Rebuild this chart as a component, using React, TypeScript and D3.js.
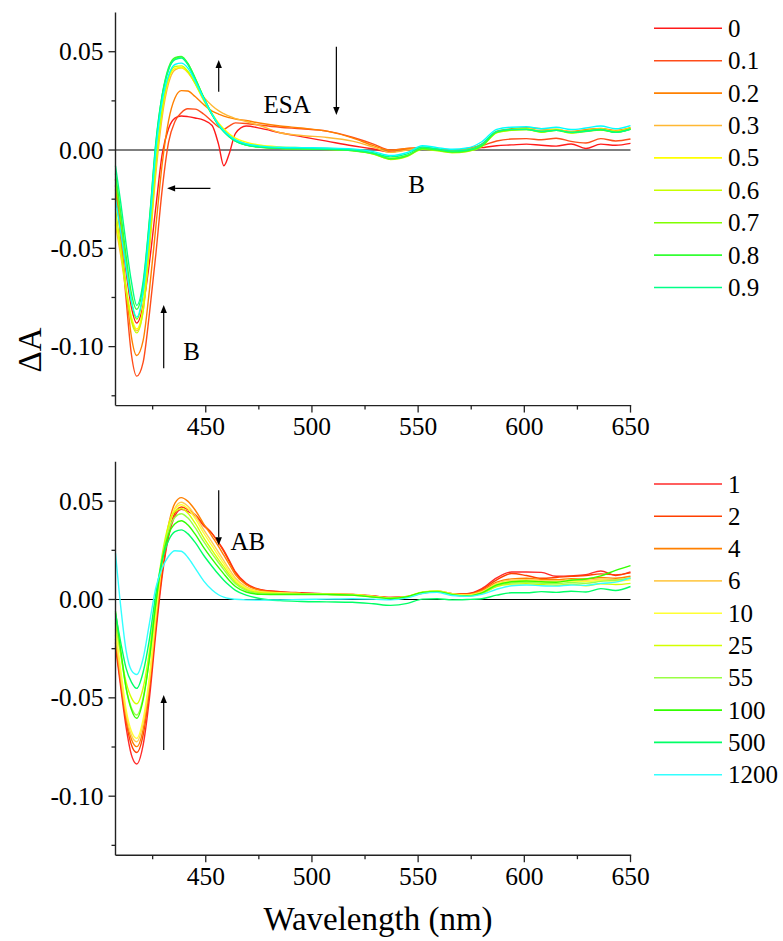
import React from 'react';
import * as d3 from 'd3';

// ---------- DATA ----------
const wavelengths = [407.5, 410, 412.5, 415, 417.5, 420.5, 423.5, 426.5, 429.5, 432.5, 435.5, 438.5, 441.5, 445, 449, 453, 456, 458.5, 461, 464, 469, 476, 485, 495, 507, 519, 529, 537, 545, 552, 559, 566, 573, 580, 587, 594, 601, 608, 615, 622, 629, 636, 643, 650];

const topLabels = ['0', '0.1', '0.2', '0.3', '0.5', '0.6', '0.7', '0.8', '0.9', ''];
const topColors = ['#ff1a1a', '#ff4d1a', '#ff8000', '#ffb833', '#ffff00', '#c8ff00', '#80ff00', '#33ff33', '#00ff88', '#00ffff'];
const topLegendCount = 9;

const top0 = [-0.015, -0.038, -0.062, -0.080, -0.088, -0.079, -0.057, -0.029, -0.002, 0.011, 0.0162, 0.0173, 0.0170, 0.0163, 0.0152, 0.0125, 0.003, -0.008, -0.002, 0.0085, 0.0122, 0.0110, 0.0088, 0.0068, 0.0045, 0.0022, 0.0005, -0.0010, 0.0002, 0.0010, 0.0004, -0.0002, 0.0002, 0.0012, 0.0022, 0.0026, 0.0030, 0.0024, 0.0020, 0.0031, 0.0008, 0.0030, 0.0024, 0.0034];
const top01 = [-0.018, -0.045, -0.076, -0.104, -0.115, -0.108, -0.083, -0.053, -0.020, 0.004, 0.0145, 0.0190, 0.0210, 0.0208, 0.0183, 0.0145, 0.0118, 0.0106, 0.0122, 0.0138, 0.0135, 0.0126, 0.0116, 0.0108, 0.0096, 0.0065, 0.0030, 0.0000, 0.0008, 0.0012, 0.0004, -0.0002, 0.0008, 0.0022, 0.0046, 0.0056, 0.0058, 0.0052, 0.0060, 0.0044, 0.0036, 0.0058, 0.0046, 0.0056];
const top02 = [-0.020, -0.044, -0.071, -0.095, -0.1045, -0.097, -0.071, -0.039, -0.007, 0.015, 0.0265, 0.0302, 0.0300, 0.0272, 0.0232, 0.0198, 0.0183, 0.0172, 0.0165, 0.0158, 0.0150, 0.0136, 0.0122, 0.0112, 0.0096, 0.0062, 0.0022, -0.0002, 0.0008, 0.0010, 0.0002, 0.0000, 0.0006, 0.0030, 0.0095, 0.0108, 0.0114, 0.0108, 0.0104, 0.0094, 0.0104, 0.0110, 0.0100, 0.0114];
const top03 = [-0.038, -0.054, -0.072, -0.086, -0.092, -0.082, -0.050, -0.012, 0.017, 0.034, 0.0408, 0.0418, 0.0395, 0.0340, 0.0270, 0.0225, 0.0200, 0.0185, 0.0172, 0.0160, 0.0145, 0.0122, 0.0088, 0.0074, 0.0064, 0.0045, 0.0015, -0.0012, 0.0000, 0.0010, 0.0000, -0.0005, 0.0002, 0.0028, 0.0092, 0.0104, 0.0110, 0.0098, 0.0106, 0.0092, 0.0100, 0.0108, 0.0096, 0.0112];
const top05 = [-0.035, -0.052, -0.070, -0.085, -0.091, -0.080, -0.047, -0.008, 0.020, 0.036, 0.0415, 0.0420, 0.0398, 0.0340, 0.0258, 0.0185, 0.0138, 0.0108, 0.0082, 0.0060, 0.0040, 0.0024, 0.0016, 0.0012, 0.0008, 0.0002, -0.0015, -0.0042, -0.0028, 0.0008, 0.0000, -0.0010, -0.0004, 0.0022, 0.0090, 0.0104, 0.0108, 0.0094, 0.0104, 0.0090, 0.0098, 0.0106, 0.0094, 0.0110];
const top06 = [-0.030, -0.050, -0.071, -0.087, -0.093, -0.082, -0.048, -0.007, 0.021, 0.037, 0.0425, 0.0428, 0.0402, 0.0338, 0.0252, 0.0178, 0.0130, 0.0100, 0.0074, 0.0052, 0.0032, 0.0018, 0.0010, 0.0008, 0.0004, -0.0002, -0.0020, -0.0048, -0.0032, 0.0004, -0.0004, -0.0014, -0.0008, 0.0018, 0.0088, 0.0100, 0.0104, 0.0090, 0.0100, 0.0086, 0.0094, 0.0102, 0.0090, 0.0106];
const top07 = [-0.015, -0.036, -0.058, -0.077, -0.086, -0.073, -0.039, 0.001, 0.027, 0.041, 0.0465, 0.0474, 0.0440, 0.0365, 0.0268, 0.0182, 0.0128, 0.0096, 0.0070, 0.0046, 0.0026, 0.0014, 0.0008, 0.0006, 0.0003, -0.0004, -0.0020, -0.0046, -0.0030, 0.0006, -0.0002, -0.0012, -0.0006, 0.0020, 0.0090, 0.0102, 0.0106, 0.0092, 0.0102, 0.0088, 0.0096, 0.0104, 0.0092, 0.0108];
const top08 = [-0.012, -0.032, -0.054, -0.073, -0.081, -0.069, -0.036, 0.003, 0.028, 0.042, 0.0470, 0.0476, 0.0442, 0.0366, 0.0268, 0.0180, 0.0126, 0.0094, 0.0068, 0.0045, 0.0025, 0.0014, 0.0009, 0.0006, 0.0004, -0.0003, -0.0018, -0.0044, -0.0028, 0.0008, 0.0000, -0.0010, -0.0004, 0.0022, 0.0092, 0.0104, 0.0104, 0.0094, 0.0100, 0.0090, 0.0098, 0.0102, 0.0090, 0.0106];
const top09 = [-0.008, -0.027, -0.048, -0.067, -0.079, -0.067, -0.035, 0.004, 0.028, 0.041, 0.0460, 0.0468, 0.0436, 0.0360, 0.0265, 0.0180, 0.0125, 0.0093, 0.0068, 0.0045, 0.0025, 0.0015, 0.0010, 0.0008, 0.0005, 0.0000, -0.0015, -0.0035, -0.0020, 0.0015, 0.0005, -0.0005, 0.0000, 0.0030, 0.0095, 0.0105, 0.0105, 0.0095, 0.0100, 0.0090, 0.0095, 0.0105, 0.0090, 0.0105];
const topExtra = [-0.025, -0.042, -0.060, -0.077, -0.085, -0.072, -0.040, 0.000, 0.025, 0.038, 0.0435, 0.0442, 0.0418, 0.0352, 0.0262, 0.0182, 0.0130, 0.0098, 0.0074, 0.0052, 0.0032, 0.0020, 0.0014, 0.0012, 0.0010, 0.0006, -0.0008, -0.0028, -0.0012, 0.0022, 0.0012, 0.0004, 0.0010, 0.0042, 0.0105, 0.0116, 0.0118, 0.0108, 0.0116, 0.0104, 0.0112, 0.0122, 0.0108, 0.0124];
const topValues = [top0, top01, top02, top03, top05, top06, top07, top08, top09, topExtra];

const bottomLabels = ['1', '2', '4', '6', '10', '25', '55', '100', '500', '1200'];
const bottomColors = ['#ff2a2a', '#ff4000', '#ff8000', '#ffcc55', '#ffff33', '#d4ff00', '#99ff44', '#33ff00', '#00ff66', '#33ffff'];

const bot1 = [-0.024, -0.045, -0.065, -0.079, -0.0836, -0.074, -0.050, -0.017, 0.012, 0.032, 0.0425, 0.0458, 0.0448, 0.0425, 0.0375, 0.0335, 0.0290, 0.0250, 0.0200, 0.0140, 0.0082, 0.0050, 0.0040, 0.0034, 0.0028, 0.0026, 0.0018, 0.0010, 0.0014, 0.0032, 0.0040, 0.0030, 0.0030, 0.0055, 0.0110, 0.0140, 0.0140, 0.0138, 0.0118, 0.0120, 0.0126, 0.0145, 0.0122, 0.0140];
const bot2 = [-0.022, -0.043, -0.062, -0.074, -0.0778, -0.069, -0.046, -0.014, 0.014, 0.033, 0.0440, 0.0470, 0.0458, 0.0432, 0.0380, 0.0335, 0.0288, 0.0245, 0.0195, 0.0135, 0.0078, 0.0048, 0.0038, 0.0032, 0.0027, 0.0025, 0.0017, 0.0010, 0.0015, 0.0034, 0.0040, 0.0030, 0.0028, 0.0050, 0.0100, 0.0132, 0.0122, 0.0108, 0.0112, 0.0118, 0.0122, 0.0130, 0.0125, 0.0135];
const bot4 = [-0.020, -0.041, -0.060, -0.071, -0.0748, -0.066, -0.043, -0.011, 0.018, 0.038, 0.0490, 0.0518, 0.0500, 0.0455, 0.0385, 0.0320, 0.0270, 0.0225, 0.0180, 0.0125, 0.0075, 0.0046, 0.0036, 0.0030, 0.0026, 0.0024, 0.0016, 0.0008, 0.0014, 0.0034, 0.0042, 0.0030, 0.0026, 0.0045, 0.0088, 0.0105, 0.0108, 0.0102, 0.0100, 0.0106, 0.0104, 0.0112, 0.0108, 0.0118];
const bot6 = [-0.018, -0.039, -0.058, -0.069, -0.0723, -0.063, -0.041, -0.009, 0.019, 0.037, 0.0465, 0.0494, 0.0475, 0.0428, 0.0355, 0.0290, 0.0240, 0.0198, 0.0155, 0.0108, 0.0064, 0.0040, 0.0034, 0.0030, 0.0027, 0.0025, 0.0016, 0.0008, 0.0015, 0.0036, 0.0044, 0.0030, 0.0024, 0.0040, 0.0082, 0.0098, 0.0100, 0.0096, 0.0094, 0.0100, 0.0098, 0.0104, 0.0100, 0.0108];
const bot10 = [-0.015, -0.036, -0.056, -0.067, -0.0706, -0.061, -0.039, -0.007, 0.020, 0.037, 0.0458, 0.0482, 0.0462, 0.0412, 0.0338, 0.0272, 0.0222, 0.0182, 0.0140, 0.0098, 0.0058, 0.0038, 0.0033, 0.0030, 0.0028, 0.0025, 0.0015, 0.0008, 0.0016, 0.0038, 0.0044, 0.0028, 0.0022, 0.0036, 0.0078, 0.0092, 0.0096, 0.0090, 0.0088, 0.0094, 0.0090, 0.0098, 0.0094, 0.0100];
const bot25 = [-0.012, -0.028, -0.042, -0.050, -0.053, -0.045, -0.026, 0.000, 0.023, 0.038, 0.0448, 0.0462, 0.0440, 0.0388, 0.0315, 0.0250, 0.0203, 0.0166, 0.0128, 0.0088, 0.0052, 0.0034, 0.0030, 0.0028, 0.0026, 0.0024, 0.0014, 0.0006, 0.0014, 0.0036, 0.0042, 0.0026, 0.0018, 0.0030, 0.0066, 0.0078, 0.0080, 0.0076, 0.0072, 0.0078, 0.0070, 0.0080, 0.0076, 0.0082];
const bot55 = [-0.010, -0.028, -0.045, -0.055, -0.0587, -0.050, -0.030, -0.002, 0.021, 0.035, 0.0418, 0.0436, 0.0415, 0.0365, 0.0295, 0.0232, 0.0188, 0.0152, 0.0116, 0.0080, 0.0046, 0.0030, 0.0028, 0.0027, 0.0026, 0.0023, 0.0013, 0.0006, 0.0014, 0.0036, 0.0042, 0.0026, 0.0018, 0.0032, 0.0070, 0.0084, 0.0088, 0.0082, 0.0080, 0.0086, 0.0082, 0.0092, 0.0098, 0.0110];
const bot100 = [-0.006, -0.026, -0.045, -0.056, -0.0604, -0.051, -0.030, -0.002, 0.020, 0.033, 0.0385, 0.0400, 0.0380, 0.0332, 0.0265, 0.0205, 0.0163, 0.0130, 0.0098, 0.0066, 0.0038, 0.0026, 0.0025, 0.0025, 0.0025, 0.0022, 0.0012, 0.0005, 0.0014, 0.0036, 0.0040, 0.0024, 0.0018, 0.0034, 0.0074, 0.0090, 0.0094, 0.0090, 0.0088, 0.0098, 0.0104, 0.0120, 0.0148, 0.0172];
const bot500 = [-0.007, -0.022, -0.035, -0.042, -0.0452, -0.037, -0.020, 0.003, 0.020, 0.030, 0.0345, 0.0354, 0.0335, 0.0290, 0.0225, 0.0168, 0.0128, 0.0098, 0.0072, 0.0046, 0.0022, 0.0004, -0.0006, -0.0010, -0.0012, -0.0014, -0.0022, -0.0030, -0.0020, 0.0002, 0.0004, -0.0002, 0.0000, 0.0004, 0.0022, 0.0034, 0.0034, 0.0040, 0.0036, 0.0042, 0.0038, 0.0055, 0.0046, 0.0066];
const bot1200 = [0.0235, -0.004, -0.026, -0.036, -0.0381, -0.030, -0.012, 0.006, 0.016, 0.022, 0.0248, 0.0245, 0.0215, 0.0160, 0.0095, 0.0048, 0.0024, 0.0012, 0.0005, 0.0001, -0.0002, -0.0003, -0.0002, 0.0000, 0.0002, 0.0004, 0.0002, -0.0002, 0.0008, 0.0030, 0.0036, 0.0020, 0.0016, 0.0026, 0.0052, 0.0070, 0.0074, 0.0070, 0.0068, 0.0074, 0.0072, 0.0082, 0.0088, 0.0110];
const bottomValues = [bot1, bot2, bot4, bot6, bot10, bot25, bot55, bot100, bot500, bot1200];

const xTicks = [450, 500, 550, 600, 650];
const xMinorTicks = [425, 475, 525, 575, 625];
const yTicks = [-0.1, -0.05, 0, 0.05];
const yMinorTicks = [-0.125, -0.075, -0.025, 0.025];

// annotations in data coordinates: [x1, y1, x2, y2] (arrow from 1 to 2)
const topArrows = [
  [456.1, 0.0297, 456.1, 0.0458],
  [511.5, 0.0525, 511.5, 0.0178],
  [452.2, -0.0195, 431.8, -0.0195],
  [430.2, -0.111, 430.2, -0.0788],
];
const topTexts = [
  { t: 'ESA', x: 477.2, y: 0.0188 },
  { t: 'B', x: 545.4, y: -0.0219 },
  { t: 'B', x: 439.4, y: -0.1068 },
];
const bottomArrows = [
  [456.1, 0.0555, 456.1, 0.0276],
  [430.2, -0.0765, 430.2, -0.0485],
];
const bottomTexts = [{ t: 'AB', x: 461.6, y: 0.025 }];

// ---------- LAYOUT ----------
const FONT = "'Liberation Serif', 'Times New Roman', serif";
const X_DOMAIN = [407.5, 650];
const Y_DOMAIN = [-0.13, 0.07];
const PLOT_LEFT = 115.5;
const PLOT_RIGHT = 630.5;
const xScale = d3.scaleLinear().domain(X_DOMAIN).range([PLOT_LEFT, PLOT_RIGHT]);

const txt = (size: number) => ({ fontFamily: FONT, fontSize: size + 'px' });

function Arrow({ x1, y1, x2, y2 }: { x1: number; y1: number; x2: number; y2: number }) {
  const ang = Math.atan2(y2 - y1, x2 - x1);
  const L = 8, W = 3.2;
  const bx = x2 - L * Math.cos(ang), by = y2 - L * Math.sin(ang);
  const px = -Math.sin(ang) * W, py = Math.cos(ang) * W;
  return (
    <g>
      <line x1={x1} y1={y1} x2={bx} y2={by} stroke="#000" strokeWidth={1.2} />
      <path d={`M${x2},${y2}L${bx + px},${by + py}L${bx - px},${by - py}Z`} fill="#000" />
    </g>
  );
}

function Panel(props: {
  yBottom: number; yTop: number; values: number[][]; colors: string[]; labels: string[];
  legendCount: number; legendY0: number; legendStep: number;
  arrows: number[][]; texts: { t: string; x: number; y: number }[];
}) {
  const { yBottom, yTop, values, colors, labels, legendCount, legendY0, legendStep, arrows, texts } = props;
  const yScale = d3.scaleLinear().domain(Y_DOMAIN).range([yBottom, yTop]);
  const line = d3.line<number>()
    .x((_, i) => xScale(wavelengths[i]))
    .y((d) => yScale(d))
    .curve(d3.curveMonotoneX);
  const axisColor = '#222';
  return (
    <g>
      <line x1={PLOT_LEFT} x2={PLOT_RIGHT} y1={yScale(0)} y2={yScale(0)} stroke="#000" strokeWidth={1.2} />
      {values.map((v, i) => (
        <path key={i} d={line(v) || ''} fill="none" stroke={colors[i]} strokeWidth={1.4} strokeLinejoin="round" />
      ))}
      <line x1={PLOT_LEFT} x2={PLOT_LEFT} y1={yTop} y2={yBottom} stroke={axisColor} strokeWidth={1.4} />
      <line x1={PLOT_LEFT} x2={PLOT_RIGHT + 0.7} y1={yBottom} y2={yBottom} stroke={axisColor} strokeWidth={1.4} />
      {yTicks.map((t) => (
        <g key={'y' + t}>
          <line x1={PLOT_LEFT - 7} x2={PLOT_LEFT} y1={yScale(t)} y2={yScale(t)} stroke={axisColor} strokeWidth={1.3} />
          <text x={PLOT_LEFT - 12} y={yScale(t) + 8.5} textAnchor="end" style={txt(25.5)}>{t.toFixed(2)}</text>
        </g>
      ))}
      {yMinorTicks.map((t) => (
        <line key={'ym' + t} x1={PLOT_LEFT - 4} x2={PLOT_LEFT} y1={yScale(t)} y2={yScale(t)} stroke={axisColor} strokeWidth={1.3} />
      ))}
      {xTicks.map((t) => (
        <g key={'x' + t}>
          <line x1={xScale(t)} x2={xScale(t)} y1={yBottom} y2={yBottom + 7} stroke={axisColor} strokeWidth={1.3} />
          <text x={xScale(t)} y={yBottom + 29.5} textAnchor="middle" style={txt(25.5)}>{t}</text>
        </g>
      ))}
      {xMinorTicks.map((t) => (
        <line key={'xm' + t} x1={xScale(t)} x2={xScale(t)} y1={yBottom} y2={yBottom + 4} stroke={axisColor} strokeWidth={1.3} />
      ))}
      {arrows.map((a, i) => (
        <Arrow key={'a' + i} x1={xScale(a[0])} y1={yScale(a[1])} x2={xScale(a[2])} y2={yScale(a[3])} />
      ))}
      {texts.map((t, i) => (
        <text key={'t' + i} x={xScale(t.x)} y={yScale(t.y)} style={txt(25)}>{t.t}</text>
      ))}
      {labels.slice(0, legendCount).map((lab, i) => {
        const ly = legendY0 + i * legendStep;
        return (
          <g key={'l' + i}>
            <line x1={654} x2={722} y1={ly} y2={ly} stroke={colors[i]} strokeWidth={1.6} />
            <text x={728} y={ly + 8.5} style={txt(25)}>{lab}</text>
          </g>
        );
      })}
    </g>
  );
}

export default function App() {
  return (
    <svg width={783} height={941} style={{ position: 'absolute', left: 0, top: 0, background: '#fff' }}>
      <rect x={0} y={0} width={783} height={941} fill="#fff" />
      <Panel yBottom={405.6} yTop={12.4} values={topValues} colors={topColors} labels={topLabels}
        legendCount={topLegendCount} legendY0={28.3} legendStep={32.4} arrows={topArrows} texts={topTexts} />
      <Panel yBottom={855.2} yTop={461.8} values={bottomValues} colors={bottomColors} labels={bottomLabels}
        legendCount={bottomLabels.length} legendY0={484} legendStep={32.3} arrows={bottomArrows} texts={bottomTexts} />
      <text transform="translate(41,350) rotate(-90)" textAnchor="middle" style={txt(33)}>ΔA</text>
      <text x={378} y={930} textAnchor="middle" style={txt(33)}>Wavelength (nm)</text>
    </svg>
  );
}
